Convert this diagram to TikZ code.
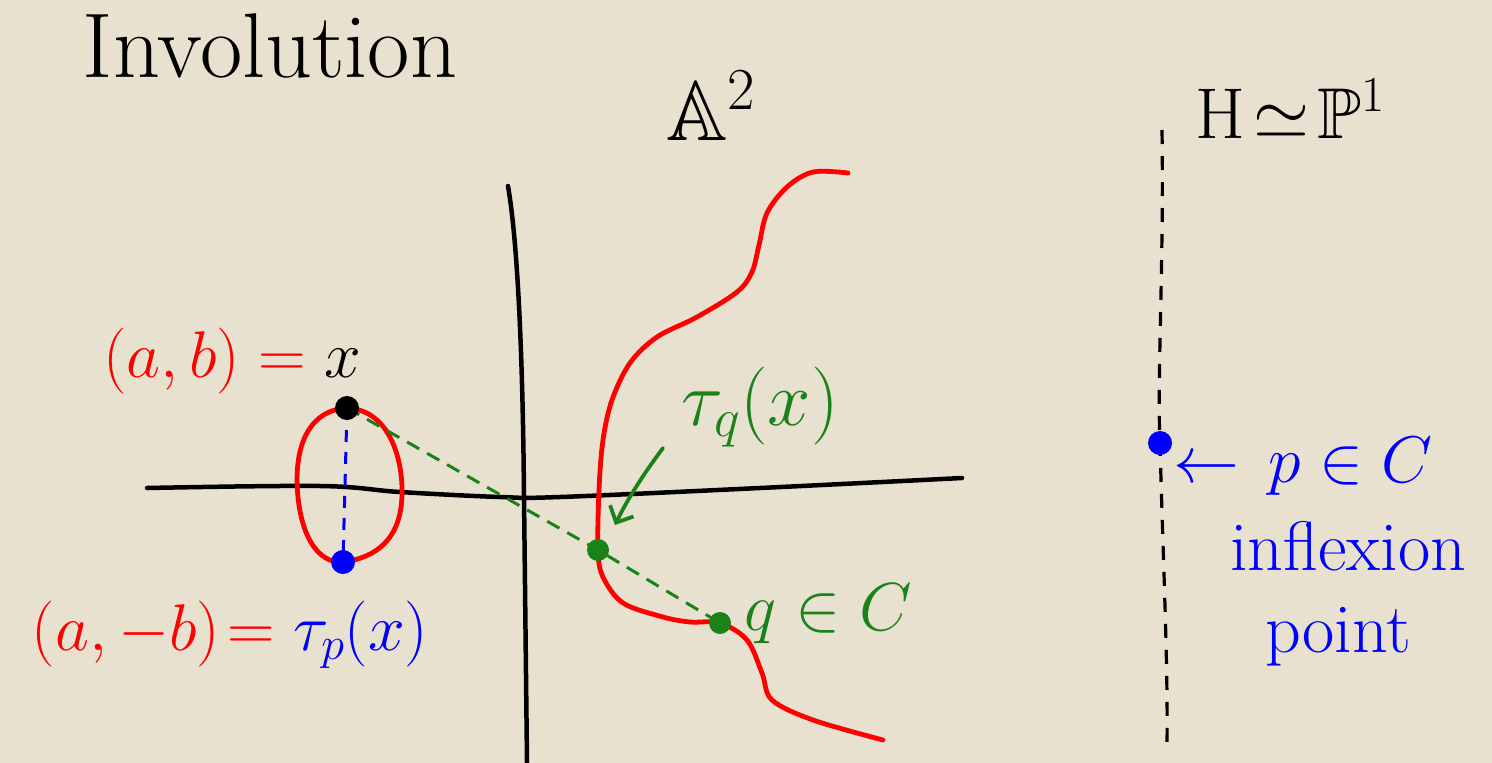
\RequirePackage{fix-cm}
\documentclass[tikz,border=0pt]{standalone}
\usepackage{amssymb}
\usetikzlibrary{arrows.meta}
\definecolor{bg}{RGB}{233,225,208}
\definecolor{pred}{RGB}{255,0,0}
\definecolor{pgreen}{RGB}{25,130,25}
\definecolor{pblue}{RGB}{0,0,255}
\begin{document}
\begin{tikzpicture}[x=1pt,y=-1pt,
  axis/.style={line width=4.5pt, black, line cap=round},
  redcurve/.style={line width=4.8pt, pred, line cap=round, line join=round},
  dot/.style={circle, inner sep=0pt, minimum size=24pt},
  lbl/.style={inner sep=0pt, font=\fontsize{66}{70}\selectfont},
  gdash/.style={pgreen, line width=3pt, dash pattern=on 14pt off 9pt},
  bdash/.style={pblue, line width=3pt, dash pattern=on 12pt off 10pt},
  hdash/.style={black, line width=3.2pt, dash pattern=on 14pt off 12pt}]
\fill[bg] (0,0) rectangle (1492,763);
\useasboundingbox (0,0) rectangle (1492,763);

% points
\coordinate (xpt) at (347,408);
\coordinate (tpx) at (343,562);
\coordinate (tq) at (598,550);
\coordinate (q) at (720,623);
\coordinate (p) at (1160,443);
\coordinate (htop) at (1162,130);
\coordinate (hbot) at (1167,745);
\coordinate (arrstart) at (663,448);
\coordinate (arrtip) at (615,525);

% axes
\draw[axis] plot[smooth,tension=0.6] coordinates {(147,488) (320,486) (400,492) (500,497) (560,497) (760,488) (962,478)};
\draw[axis] (508,186) .. controls (519,250) and (523,380) .. (524,496) -- (527,763);

% curves
\draw[redcurve] (xpt) .. controls (390,410) and (403,460) .. (402,495) .. controls (401,540) and (375,558) .. (tpx) .. controls (318,564) and (298,535) .. (297,480) .. controls (297,440) and (312,410) .. (xpt) -- cycle;
\draw[redcurve] plot[smooth,tension=0.55] coordinates {(848,173) (813,172) (787,187) (767,213) (759,245) (752,272) (737,292) (697,317) (657,337) (630,363) (612,400) (603,440) (599,490) (598,550) (603,577) (623,603) (663,617) (690,622) (720,623) (747,640) (762,673) (772,700) (813,720) (883,740)};

% H line
\draw[hdash] (htop) .. controls (1164,260) and (1157,380) .. (p) .. controls (1163,560) and (1168,660) .. (hbot);

% dashed lines
\draw[bdash] (xpt) -- (tpx);
\draw[gdash] (xpt) -- (tq) -- (q);

% arrow
\draw[pgreen, line width=3.8pt, line cap=round, -{Straight Barb[length=13pt,width=26pt]}] (arrstart) .. controls (645,472) and (628,498) .. (arrtip);

% dots
\node[dot, fill=black] (xdot) at (xpt) {};
\node[dot, fill=pblue] (tpdot) at (tpx) {};
\node[dot, fill=pgreen, minimum size=22pt] (tqdot) at (tq) {};
\node[dot, fill=pgreen, minimum size=22pt] (qdot) at (q) {};
\node[dot, fill=pblue] (pdot) at (p) {};

% labels
\node[lbl, font=\fontsize{92}{98}\selectfont, anchor=base] (title) at (270,77) {Involution};
\node[lbl, font=\fontsize{85}{90}\selectfont, anchor=base] (A2) at (711,140) {$\mathbb{A}^2$};
\node[lbl, font=\fontsize{72}{76}\selectfont, anchor=base] (H) at (1290,138) {$\mathrm{H}\!\simeq\!\mathbb{P}^1$};
\node[lbl, anchor=base] (ab) at (232,377) {$\color{pred}(a,b) = \color{black}x$};
\node[lbl, anchor=base] (amb) at (230,650) {$\color{pred}(a,-b)\!= \color{pblue}\tau_p(x)$};
\node[lbl, font=\fontsize{78}{80}\selectfont, text=pgreen, anchor=base] (tqlbl) at (760,425) {$\tau_q(x)$};
\node[lbl, font=\fontsize{68}{72}\selectfont, text=pgreen, anchor=base] (qlbl) at (828,630) {$q\in C$};
\node[lbl, text=pblue, anchor=base] (plbl) at (1303,482) {$\leftarrow\, p\in C$};
\node[lbl, font=\fontsize{70}{74}\selectfont, text=pblue, anchor=base] (infl) at (1348,570) {inflexion};
\node[lbl, font=\fontsize{70}{74}\selectfont, text=pblue, anchor=base] (pt) at (1338,652) {point};
\end{tikzpicture}
\end{document}
